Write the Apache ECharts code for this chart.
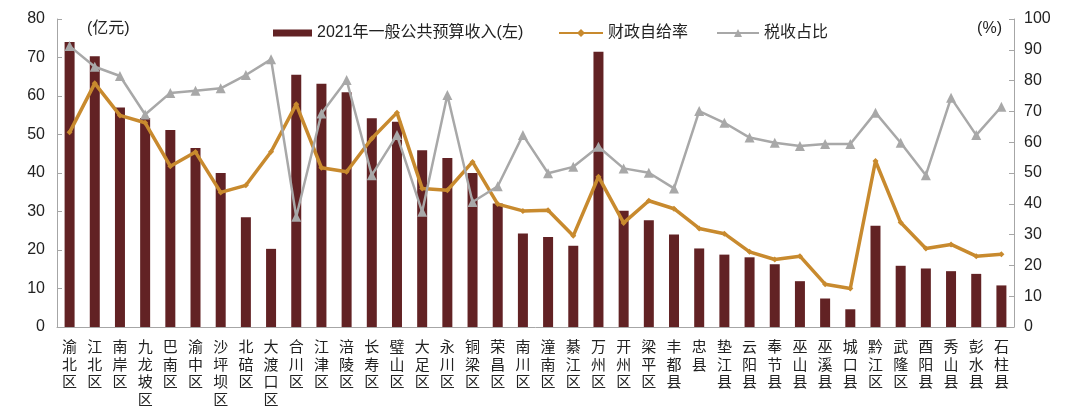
<!DOCTYPE html>
<html><head><meta charset="utf-8">
<script src="https://cdn.jsdelivr.net/npm/echarts@6/dist/echarts.min.js"></script>
<style>html,body{margin:0;padding:0;background:#fff}#c{width:1080px;height:411px}</style>
</head><body><div id="c"></div>
<script>
const categories = ["渝北区","江北区","南岸区","九龙坡区","巴南区","渝中区","沙坪坝区","北碚区","大渡口区","合川区","江津区","涪陵区","长寿区","璧山区","大足区","永川区","铜梁区","荣昌区","南川区","潼南区","綦江区","万州区","开州区","梁平区","丰都县","忠县","垫江县","云阳县","奉节县","巫山县","巫溪县","城口县","黔江区","武隆区","酉阳县","秀山县","彭水县","石柱县"];
const revenue = [74,70.3,57,54.3,51.2,46.5,40,28.5,20.3,65.5,63.2,61,54.2,53.3,45.9,43.9,40,32.1,24.3,23.4,21.1,71.5,30.2,27.7,24,20.4,18.8,18.1,16.3,11.9,7.4,4.6,26.3,15.9,15.2,14.5,13.8,10.8];
const selfSufficiency = [63.2,79.1,68.7,66.3,52.2,56.8,43.7,46,56.9,72.3,51.7,50.4,61.2,69.6,45,44.4,53.6,39.9,37.7,37.9,29.6,48.8,33.8,41,38.4,32,30.3,24.4,21.9,23,13.9,12.5,53.9,33.9,25.5,26.8,23,23.6];
const taxShare = [91.2,84.5,81.5,69,76,76.7,77.5,81.8,86.9,35.8,69.3,80.2,49.3,62.3,37.4,75.3,40.6,45.7,62.3,49.9,52,58.5,51.5,50.1,45,70.1,66.3,61.5,59.8,58.8,59.4,59.4,69.6,59.8,49.3,74.4,62.3,71.5];
const leftTicks = {min:0,max:80,interval:10};
const rightTicks = {min:0,max:100,interval:10};

const FONT = "'Liberation Sans','Noto Sans CJK SC',sans-serif";
const BAR = '#622224', ORANGE = '#C88A2E', GRAY = '#A8A8A8';
const chart = echarts.init(document.getElementById('c'));
const legendText = {fontSize:16,color:'#222',fontFamily:FONT};
chart.setOption({
  animation:false,
  textStyle:{fontFamily:FONT},
  grid:{left:57,right:66,top:19,bottom:84,containLabel:false},
  legend:[
    {data:[{name:'2021年一般公共预算收入(左)',icon:'rect'}],left:268,top:20,itemWidth:39,itemHeight:7,itemGap:0,textStyle:legendText},
    {data:['财政自给率'],left:553,top:20,itemWidth:44,itemHeight:10,textStyle:legendText},
    {data:['税收占比'],left:711,top:20,itemWidth:42,itemHeight:10,textStyle:legendText}
  ],
  xAxis:{type:'category',data:categories,boundaryGap:true,
    axisLine:{lineStyle:{color:'#A6A6A6',width:1}},
    axisTick:{inside:true,length:4,lineStyle:{color:'#A6A6A6'}},
    axisLabel:{interval:0,margin:11,fontSize:15,lineHeight:17.5,color:'#222',fontFamily:"'Noto Sans CJK SC',sans-serif",
      formatter:v=>v.split('').join('\n')}},
  yAxis:[
    {type:'value',min:leftTicks.min,max:leftTicks.max,interval:leftTicks.interval,
     name:'(亿元)',nameLocation:'end',nameGap:0,
     nameTextStyle:{fontSize:16,color:'#222',align:'left',verticalAlign:'top',padding:[2,0,0,30]},
     splitLine:{show:false},
     axisLine:{show:true,lineStyle:{color:'#A6A6A6'}},
     axisTick:{show:true,inside:true,length:5,lineStyle:{color:'#A6A6A6'}},
     axisLabel:{fontSize:16,color:'#222',margin:12}},
    {type:'value',min:rightTicks.min,max:rightTicks.max,interval:rightTicks.interval,
     name:'(%)',nameLocation:'end',nameGap:0,
     nameTextStyle:{fontSize:16,color:'#222',align:'right',verticalAlign:'top',padding:[2,12,0,0]},
     splitLine:{show:false},
     axisLine:{show:true,lineStyle:{color:'#A6A6A6'}},
     axisTick:{show:true,inside:true,length:5,lineStyle:{color:'#A6A6A6'}},
     axisLabel:{fontSize:16,color:'#222',margin:10}}
  ],
  series:[
    {name:'2021年一般公共预算收入(左)',type:'bar',yAxisIndex:0,data:revenue,barWidth:10,itemStyle:{color:BAR}},
    {name:'财政自给率',type:'line',yAxisIndex:1,data:selfSufficiency,
     lineStyle:{color:ORANGE,width:3.5},itemStyle:{color:ORANGE},symbol:'diamond',symbolSize:6,showSymbol:true},
    {name:'税收占比',type:'line',yAxisIndex:1,data:taxShare,
     lineStyle:{color:GRAY,width:2.5},itemStyle:{color:GRAY},symbol:'triangle',symbolSize:10,showSymbol:true}
  ]
});
</script></body></html>
